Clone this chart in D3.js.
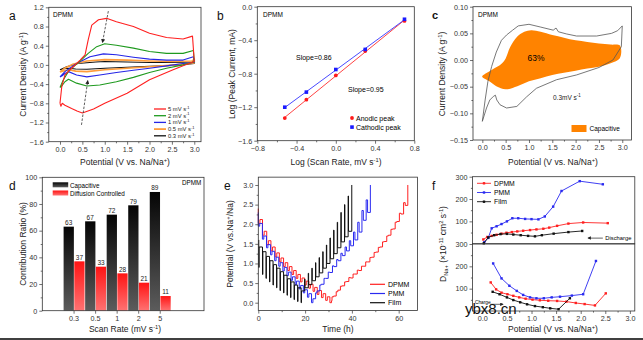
<!DOCTYPE html>
<html>
<head>
<meta charset="utf-8">
<script src="https://cdn.jsdelivr.net/npm/d3@7"></script>
<style>
  body { margin: 0; background: #fff; }
  text { font-family: "Liberation Sans", Arial, sans-serif; }
</style>
</head>
<body>
<div id="chart"></div>
<script>
// ---------- a: CV loops (V, A g-1) anodic sweep then cathodic sweep ----------
const rateLabels = ["5", "2", "1", "0.5", "0.3"];
const rateColors = ["#ff2020", "#1f9a1f", "#2626e6", "#ff9c3a", "#111111"];
const cv5 = [[0,-0.80],[0.04,-0.45],[0.11,-0.21],[0.26,-0.07],[0.45,0.10],[0.56,0.21],[0.63,0.52],[0.71,0.83],[0.86,0.94],[1.04,0.97],[1.26,0.90],[1.64,0.80],[2.0,0.66],[2.38,0.57],[2.75,0.54],[2.96,0.60],
  [3.0,0.07],[2.75,-0.02],[2.5,-0.11],[2.0,-0.31],[1.5,-0.59],[1.0,-0.80],[0.75,-0.92],[0.5,-1.0],[0.38,-0.96],[0.26,-0.91],[0.11,-0.84],[0.05,-0.80],[0.02,-0.86],[0,-0.80]];
const cv2 = [[0,-0.47],[0.07,-0.32],[0.2,-0.12],[0.45,0.08],[0.63,0.24],[0.82,0.38],[1.0,0.44],[1.26,0.41],[1.64,0.35],[2.0,0.28],[2.38,0.24],[2.75,0.24],[2.98,0.30],
  [3.0,0.06],[2.75,0.0],[2.38,-0.07],[2.0,-0.16],[1.64,-0.26],[1.26,-0.35],[0.89,-0.42],[0.6,-0.44],[0.37,-0.38],[0.19,-0.30],[0.11,-0.35],[0.04,-0.44],[0,-0.47]];
const cv1 = [[0,-0.25],[0.11,-0.14],[0.37,0.03],[0.67,0.17],[0.97,0.23],[1.26,0.21],[1.64,0.16],[2.0,0.12],[2.38,0.10],[2.75,0.10],[2.98,0.17],
  [3.0,0.05],[2.75,0.03],[2.38,-0.02],[2.0,-0.07],[1.64,-0.11],[1.26,-0.16],[0.89,-0.21],[0.6,-0.25],[0.37,-0.21],[0.19,-0.14],[0.11,-0.18],[0.04,-0.23],[0,-0.25]];
const cv05 = [[0,-0.15],[0.1,-0.07],[0.3,0.02],[0.6,0.08],[1.0,0.11],[1.5,0.10],[2.0,0.08],[2.5,0.07],[2.95,0.08],[3.0,0.12],
  [3.0,0.04],[2.7,0.01],[2.3,-0.02],[2.0,-0.04],[1.5,-0.07],[1.0,-0.10],[0.6,-0.14],[0.35,-0.13],[0.2,-0.10],[0.1,-0.12],[0,-0.15]];
const cv03 = [[0,-0.10],[0.15,-0.04],[0.4,0.03],[0.8,0.06],[1.0,0.07],[1.5,0.06],[2.0,0.05],[2.5,0.05],[2.95,0.06],[3.0,0.08],
  [3.0,0.03],[2.7,0.0],[2.3,-0.02],[2.0,-0.03],[1.5,-0.05],[1.0,-0.07],[0.6,-0.09],[0.35,-0.085],[0.2,-0.07],[0.1,-0.08],[0,-0.10]];
const cvLoops = [cv5, cv2, cv1, cv05, cv03];
const peakArrows = [[[1.08,1.12],[0.95,0.47]], [[0.48,-1.25],[0.62,-0.33]]];

// ---------- b: log(peak current) vs log(scan rate) ----------
const logRate = [-0.52, -0.3, 0, 0.3, 0.7];
const logAnodic = [-1.33, -1.11, -0.82, -0.53, -0.17];
const logCathodic = [-1.20, -1.02, -0.75, -0.51, -0.15];

// ---------- c: 0.3 mV/s CV and capacitive part ----------
const cvTotal03 = [[0,-0.115],[0.06,-0.075],[0.12,-0.04],[0.2,-0.012],[0.3,0.015],[0.41,0.037],[0.52,0.047],[0.65,0.056],[0.77,0.064],[1.0,0.067],[1.24,0.062],[1.52,0.056],[1.58,0.060],[1.63,0.053],[1.8,0.049],[2.02,0.045],[2.45,0.045],[2.77,0.050],[2.9,0.055],[3.0,0.064],
  [2.98,0.025],[2.8,0.0],[2.5,-0.014],[2.02,-0.028],[1.59,-0.037],[1.16,-0.053],[0.95,-0.069],[0.74,-0.087],[0.52,-0.090],[0.38,-0.084],[0.31,-0.075],[0.28,-0.066],[0.24,-0.068],[0.16,-0.075],[0.09,-0.090],[0,-0.115]];
const capUpper = [[0,-0.030],[0.1,-0.024],[0.25,-0.016],[0.4,-0.008],[0.5,0.003],[0.6,0.025],[0.75,0.044],[0.9,0.053],[1.05,0.056],[1.25,0.053],[1.5,0.047],[1.75,0.042],[2.0,0.037],[2.25,0.034],[2.5,0.031],[2.75,0.029],[2.95,0.027]];
const capLower = [[0,-0.032],[0.15,-0.040],[0.3,-0.049],[0.5,-0.055],[0.75,-0.049],[1.0,-0.040],[1.25,-0.034],[1.5,-0.028],[1.75,-0.024],[2.0,-0.020],[2.25,-0.016],[2.5,-0.0125],[2.75,-0.006],[2.95,0.004]];

// ---------- d: contribution ratio ----------
const scanRates = ["0.3", "0.5", "1", "2", "5"];
const capPct = [63, 67, 72, 79, 89];
const diffPct = [37, 33, 28, 21, 11];

// ---------- e: GITT (pulse start time h, rest potential before pulse, potential at pulse end) ----------
const dpmmT = [0,1.8,3.6,5.4,7.2,9.0,10.8,12.6,14.4,16.2,18.0,19.8,21.6,23.4,25.2,27.0,28.8,30.6,
  31.5,33.3,35.1,36.9,38.7,40.5,42.3,44.1,45.9,47.7,49.5,51.3,53.1,54.9,56.7,58.5,60.3,62.1,63.9];
const dpmmRest = [2.4,2.12,1.82,1.58,1.42,1.27,1.14,1.02,0.92,0.82,0.72,0.63,0.55,0.47,0.39,0.31,0.23,0.15,
  0.05,0.17,0.32,0.43,0.54,0.63,0.73,0.82,0.93,1.04,1.16,1.29,1.42,1.56,1.72,1.88,2.07,2.26,2.48];
const dpmmPulse = [2.02,1.72,1.48,1.32,1.17,1.04,0.92,0.82,0.72,0.62,0.53,0.45,0.37,0.29,0.21,0.13,0.06,0.0,
  0.15,0.28,0.42,0.53,0.64,0.73,0.83,0.93,1.04,1.15,1.28,1.41,1.55,1.70,1.87,2.05,2.28,2.55,3.0];
const pmmT = [0,1.75,3.5,5.25,7,8.75,10.5,12.25,14,15.75,17.5,19.25,21,22.75,
  24.5,26.3,28.1,29.9,31.7,33.5,35.3,37.1,38.9,40.7,42.5,44.3,46.1,47.9];
const pmmRest = [2.3,2.02,1.7,1.48,1.31,1.16,1.02,0.9,0.78,0.66,0.55,0.44,0.33,0.23,
  0.1,0.3,0.47,0.62,0.77,0.92,1.07,1.2,1.32,1.45,1.6,1.8,2.1,2.3];
const pmmPulse = [1.95,1.62,1.4,1.22,1.07,0.93,0.81,0.69,0.57,0.46,0.35,0.25,0.14,0.0,
  0.25,0.45,0.62,0.78,0.94,1.1,1.26,1.42,1.58,1.8,2.05,2.35,2.62,3.0];
const filmT = [0.2,1.8,3.3,4.8,6.3,7.8,9.3,10.8,12.3,13.8,15.3,16.8,18.3,
  19.8,21.35,22.9,24.45,26.0,27.55,29.1,30.65,32.2,33.75,35.3,36.85,38.4,39.95];
const filmRest = [1.6,1.42,1.3,1.18,1.07,0.97,0.88,0.79,0.7,0.61,0.53,0.45,0.38,
  0.3,0.38,0.46,0.56,0.66,0.76,0.88,1.0,1.12,1.25,1.4,1.55,1.68,1.82];
const filmPulse = [0.9,0.72,0.62,0.53,0.45,0.38,0.31,0.25,0.19,0.13,0.08,0.03,0.0,
  0.6,0.75,0.88,1.02,1.15,1.3,1.47,1.65,1.85,2.05,2.3,2.5,2.72,3.0];

// ---------- f: Na+ diffusion coefficient (V, 1e-11 cm2/s) ----------
const disDPMM = [[0.02,19],[0.1,30],[0.19,35],[0.29,40],[0.39,45],[0.49,49],[0.6,52],[0.71,55],[0.83,58],[0.97,61],[1.1,64],[1.24,67],[1.36,72],[1.52,80],[1.75,90],[2.05,95],[2.55,92]];
const disPMM = [[0.04,7],[0.12,26],[0.19,69],[0.29,78],[0.39,88],[0.5,100],[0.61,114],[0.73,114],[0.87,111],[1.0,110],[1.14,109],[1.27,122],[1.44,166],[1.61,236],[1.98,280],[2.45,266]];
const disFilm = [[0.03,2],[0.12,28],[0.24,38],[0.37,43],[0.5,44],[0.63,41],[0.78,38],[0.93,35],[1.07,33],[1.21,38],[1.45,45],[1.75,52],[2.03,57]];
const chDPMM = [[0.17,128],[0.28,97],[0.39,82],[0.51,75],[0.63,68],[0.75,61],[0.88,55],[1.02,51],[1.17,48],[1.34,46],[1.52,45],[1.71,42],[1.9,36],[2.08,31],[2.29,25],[2.51,79]];
const chPMM = [[0.22,213],[0.39,146],[0.55,113],[0.7,90],[0.83,72],[0.97,61],[1.1,57],[1.25,57],[1.41,61],[1.58,64],[1.82,69],[2.05,75],[2.31,224]];
const chFilm = [[0.21,86],[0.35,75],[0.5,61],[0.63,49],[0.77,39],[0.91,30],[1.07,22],[1.23,17],[1.38,12],[1.55,8],[1.78,57]];
const seriesNames = ["DPMM", "PMM", "Film"];
const seriesColors = ["#ff2020", "#2a2af0", "#111111"];

// ================= drawing =================
const svg = d3.select("#chart").append("svg")
    .attr("width", 643).attr("height", 340);
svg.append("rect").attr("width", 643).attr("height", 340).attr("fill", "#fff");

const defs = svg.append("defs");
function grad(id, c0, c1) {
    const g = defs.append("linearGradient").attr("id", id)
        .attr("x1", 0).attr("y1", 0).attr("x2", 0).attr("y2", 1);
    g.append("stop").attr("offset", "0%").attr("stop-color", c0);
    g.append("stop").attr("offset", "100%").attr("stop-color", c1);
}
grad("capGrad", "#050505", "#5c5c5c");
grad("diffGrad", "#ff1414", "#ff7272");
defs.append("marker").attr("id", "arr").attr("viewBox", "0 0 10 10")
    .attr("refX", 8).attr("refY", 5).attr("markerWidth", 5).attr("markerHeight", 5)
    .attr("orient", "auto-start-reverse")
    .append("path").attr("d", "M0,0L10,5L0,10z").attr("fill", "#222");

// text with sub / superscript parts
function rich(g, x, y, parts, size, opt = {}) {
    const t = g.append("text").attr("x", x).attr("y", y).attr("font-size", size)
        .attr("text-anchor", opt.anchor || "middle").attr("fill", opt.fill || "#222");
    if (opt.rot) t.attr("transform", `rotate(-90,${x},${y})`);
    let shift = 0;
    parts.forEach(p => {
        const [s, k] = typeof p === "string" ? [p, null] : p;
        const target = k === "sup" ? -0.38 * size : k === "sub" ? 0.28 * size : 0;
        t.append("tspan").attr("dy", target - shift).attr("font-size", k ? size * 0.68 : size).text(s);
        shift = target;
    });
    return t;
}

function styleAxis(sel) {
    sel.attr("font-size", 7.2).attr("font-family", '"Liberation Sans", Arial, sans-serif');
    sel.select(".domain").remove();
    sel.selectAll(".tick line").attr("stroke", "#333").attr("stroke-width", 0.7);
    sel.selectAll(".tick text").attr("fill", "#333");
}

function frame(g, x, y, o) {
    const [xa, xb] = [x.range()[0], x.range()[x.range().length - 1]];
    const xLo = o.box ? o.box[0] : xa, xHi = o.box ? o.box[1] : xb;
    const [yb, ya] = y.range();
    const bottom = g.append("g").attr("transform", `translate(0,${yb})`)
        .call(d3.axisBottom(x).tickValues(o.xt || null).tickFormat(o.xf || null)
            .tickSize(3).tickSizeOuter(0).tickPadding(2));
    styleAxis(bottom);
    if (o.xm) styleAxis(g.append("g").attr("transform", `translate(0,${yb})`)
        .call(d3.axisBottom(x).tickValues(o.xm).tickFormat("").tickSize(1.6).tickSizeOuter(0)));
    const left = g.append("g").attr("transform", `translate(${xLo},0)`)
        .call(d3.axisLeft(y).tickValues(o.yt).tickFormat(o.yf).tickSize(3).tickSizeOuter(0).tickPadding(2));
    styleAxis(left);
    if (o.ym) styleAxis(g.append("g").attr("transform", `translate(${xLo},0)`)
        .call(d3.axisLeft(y).tickValues(o.ym).tickFormat("").tickSize(1.6).tickSizeOuter(0)));
    g.append("rect").attr("x", xLo).attr("y", ya).attr("width", xHi - xLo).attr("height", yb - ya)
        .attr("fill", "none").attr("stroke", "#333").attr("stroke-width", 0.8);
}

function letter(x, y, s) {
    svg.append("text").attr("x", x).attr("y", y).attr("font-size", 12).attr("fill", "#111").text(s);
}
const f1 = d3.format(".1f"), f2 = d3.format(".2f");

// ---------------- panel a ----------------
{
    const g = svg.append("g");
    const x = d3.scaleLinear().domain([-0.25, 3.15]).range([48.8, 201]);
    const y = d3.scaleLinear().domain([-1.6, 1.2]).range([141.7, 7.3]);
    const line = d3.line().x(d => x(d[0])).y(d => y(d[1]));
    cvLoops.slice().reverse().forEach((loop, i) => {
        const k = cvLoops.length - 1 - i;
        g.append("path").datum(loop).attr("d", line).attr("fill", "none")
            .attr("stroke", rateColors[k]).attr("stroke-width", k === 3 ? 1.6 : 1.1)
            .attr("stroke-linejoin", "round");
    });
    peakArrows.forEach(a => {
        g.append("line").attr("x1", x(a[0][0])).attr("y1", y(a[0][1]))
            .attr("x2", x(a[1][0])).attr("y2", y(a[1][1]))
            .attr("stroke", "#333").attr("stroke-width", 0.8).attr("stroke-dasharray", "2.5,1.5")
            .attr("marker-end", "url(#arr)");
    });
    frame(g, x, y, {
        xt: d3.range(0, 3.01, 0.5), xf: f1, xm: d3.range(0.25, 3.1, 0.5),
        yt: d3.range(-1.6, 1.21, 0.4), yf: f1, ym: d3.range(-1.4, 1.1, 0.4)
    });
    g.append("text").attr("x", 53).attr("y", 17).attr("font-size", 6.5).text("DPMM");
    rateLabels.forEach((r, i) => {
        const yy = 109 + i * 6.7;
        g.append("line").attr("x1", 154).attr("x2", 166).attr("y1", yy).attr("y2", yy)
            .attr("stroke", rateColors[i]).attr("stroke-width", i === 3 ? 1.8 : 1.3);
        rich(g, 168, yy + 2, [r + " mV s", ["-1", "sup"]], 5.8, { anchor: "start" });
    });
    rich(g, 125, 165, ["Potential (V vs. Na/Na", ["+", "sup"], ")"], 8.5);
    rich(g, 26, 74.5, ["Current Density (A g", ["-1", "sup"], ")"], 8.5, { rot: true });
    letter(9, 20, "a");
}

// ---------------- panel b ----------------
{
    const g = svg.append("g");
    const x = d3.scaleLinear().domain([-0.8, 0.8]).range([257.3, 414.3]);
    const y = d3.scaleLinear().domain([-1.6, 0]).range([140.7, 6.7]);
    const fit = ys => {
        const mx = d3.mean(logRate), my = d3.mean(ys);
        const b = d3.sum(logRate, (v, i) => (v - mx) * (ys[i] - my)) / d3.sum(logRate, v => (v - mx) ** 2);
        return [b, my - b * mx];
    };
    [[logAnodic, "#ff4444"], [logCathodic, "#4a4aff"]].forEach(([ys, c]) => {
        const [b, a] = fit(ys);
        const x0 = d3.min(logRate), x1 = d3.max(logRate);
        g.append("line").attr("x1", x(x0)).attr("x2", x(x1))
            .attr("y1", y(a + b * x0)).attr("y2", y(a + b * x1))
            .attr("stroke", c).attr("stroke-width", 1);
    });
    g.selectAll(".an").data(logAnodic).enter().append("circle")
        .attr("cx", (d, i) => x(logRate[i])).attr("cy", d => y(d)).attr("r", 1.9).attr("fill", "#ff1a1a");
    g.selectAll(".ca").data(logCathodic).enter().append("rect")
        .attr("x", (d, i) => x(logRate[i]) - 1.8).attr("y", d => y(d) - 1.8)
        .attr("width", 3.6).attr("height", 3.6).attr("fill", "#1a1aff");
    frame(g, x, y, {
        xt: [-0.8, -0.4, 0, 0.4, 0.8], xf: f1, xm: [-0.6, -0.2, 0.2, 0.6],
        yt: [-1.6, -1.2, -0.8, -0.4, 0], yf: f1, ym: [-1.4, -1.0, -0.6, -0.2]
    });
    g.append("text").attr("x", 263).attr("y", 17).attr("font-size", 6.5).text("DPMM");
    g.append("text").attr("x", 296).attr("y", 60).attr("font-size", 7).text("Slope=0.86");
    g.append("text").attr("x", 348).attr("y", 92).attr("font-size", 7).text("Slope=0.95");
    g.append("circle").attr("cx", 352).attr("cy", 118).attr("r", 1.9).attr("fill", "#ff1a1a");
    g.append("text").attr("x", 356).attr("y", 120.5).attr("font-size", 7).text("Anodic peak");
    g.append("rect").attr("x", 350.2).attr("y", 125.3).attr("width", 3.6).attr("height", 3.6).attr("fill", "#1a1aff");
    g.append("text").attr("x", 356).attr("y", 129.8).attr("font-size", 7).text("Cathodic peak");
    rich(g, 336, 165, ["Log (Scan Rate, mV s", ["-1", "sup"], ")"], 8.5);
    rich(g, 235, 74, ["Log (Peak Current, mA)"], 8.5, { rot: true });
    letter(217, 20, "b");
}

// ---------------- panel c ----------------
{
    const g = svg.append("g");
    const x = d3.scaleLinear().domain([-0.2, 3.2]).range([473, 631.6]);
    const y = d3.scaleLinear().domain([-0.15, 0.10]).range([140, 6.7]);
    const line = d3.line().x(d => x(d[0])).y(d => y(d[1]));
    const area = capUpper.concat(capLower.slice().reverse());
    g.append("path").datum(area)
        .attr("d", d3.line().x(d => x(d[0])).y(d => y(d[1])).curve(d3.curveCatmullRomClosed))
        .attr("fill", "#ff8300").attr("stroke", "none");
    g.append("path").datum(cvTotal03).attr("d", line).attr("fill", "none")
        .attr("stroke", "#555").attr("stroke-width", 0.8);
    frame(g, x, y, {
        xt: d3.range(0, 3.01, 0.5), xf: f1, xm: d3.range(0.25, 3.1, 0.5),
        yt: d3.range(-0.15, 0.101, 0.05), yf: f2, ym: d3.range(-0.125, 0.1, 0.05)
    });
    g.append("text").attr("x", 478).attr("y", 17).attr("font-size", 6.5).text("DPMM");
    g.append("text").attr("x", 536).attr("y", 60.5).attr("font-size", 8.5)
        .attr("text-anchor", "middle").text("63%");
    rich(g, 553, 99.5, ["0.3mV s", ["-1", "sup"]], 6.5, { anchor: "start" });
    g.append("rect").attr("x", 571.5).attr("y", 125).attr("width", 15).attr("height", 7).attr("fill", "#ff8300");
    g.append("text").attr("x", 589.5).attr("y", 131).attr("font-size", 6.5).text("Capacitive");
    rich(g, 553, 165, ["Potential (V vs. Na/Na", ["+", "sup"], ")"], 8.5);
    rich(g, 445, 74, ["Current Density (A g", ["-1", "sup"], ")"], 8.5, { rot: true });
    svg.append("text").attr("x", 432).attr("y", 19).attr("font-size", 11)
        .attr("font-weight", "bold").attr("fill", "#111").text("c");
}

// ---------------- panel d ----------------
{
    const g = svg.append("g");
    const x = d3.scaleBand().domain(scanRates).range([63.3, 171]).padding(0);
    const y = d3.scaleLinear().domain([0, 100]).range([310.7, 177.3]);
    const bw = x.bandwidth();
    g.selectAll(".cap").data(capPct).enter().append("rect")
        .attr("x", (d, i) => x(scanRates[i]) + 0.3).attr("y", d => y(d))
        .attr("width", bw / 2 - 0.5).attr("height", d => y(0) - y(d)).attr("fill", "url(#capGrad)");
    g.selectAll(".dif").data(diffPct).enter().append("rect")
        .attr("x", (d, i) => x(scanRates[i]) + bw / 2 + 0.2).attr("y", d => y(d))
        .attr("width", bw / 2 - 0.5).attr("height", d => y(0) - y(d)).attr("fill", "url(#diffGrad)");
    g.selectAll(".capl").data(capPct).enter().append("text")
        .attr("x", (d, i) => x(scanRates[i]) + bw / 4).attr("y", d => y(d) - 1.8)
        .attr("text-anchor", "middle").attr("font-size", 6.5).attr("fill", "#222").text(d => d);
    g.selectAll(".difl").data(diffPct).enter().append("text")
        .attr("x", (d, i) => x(scanRates[i]) + bw * 0.75).attr("y", d => y(d) - 1.8)
        .attr("text-anchor", "middle").attr("font-size", 6.5).attr("fill", "#222").text(d => d);
    frame(g, x, y, {
        box: [42.3, 204], yt: d3.range(0, 101, 20), yf: d3.format("d"), ym: d3.range(10, 100, 20)
    });
    g.append("rect").attr("x", 52.7).attr("y", 182.3).attr("width", 15.5).attr("height", 5).attr("fill", "url(#capGrad)");
    g.append("text").attr("x", 70).attr("y", 187.5).attr("font-size", 6.3).text("Capacitive");
    g.append("rect").attr("x", 52.7).attr("y", 190.5).attr("width", 15.5).attr("height", 5).attr("fill", "url(#diffGrad)");
    g.append("text").attr("x", 70).attr("y", 195.7).attr("font-size", 6.3).text("Diffusion Controlled");
    g.append("text").attr("x", 182).attr("y", 185).attr("font-size", 6.3).text("DPMM");
    rich(g, 125, 332, ["Scan Rate (mV s", ["-1", "sup"], ")"], 8.5);
    rich(g, 26, 244, ["Contribution Ratio (%)"], 8.5, { rot: true });
    letter(9, 190, "d");
}

// ---------------- panel e ----------------
function gittPath(t, rest, pulse, w) {
    const pts = [];
    for (let i = 0; i < t.length; i++) {
        if (i > 0) pts.push([t[i - 1] + w, rest[i]]);
        pts.push([t[i], rest[i]]);
        pts.push([t[i], pulse[i]]);
        if (i < t.length - 1) pts.push([t[i] + w, pulse[i]]);
    }
    return pts;
}
{
    const g = svg.append("g");
    const x = d3.scaleLinear().domain([0, 68]).range([258.3, 417.4]);
    const y = d3.scaleLinear().domain([-0.2, 3.2]).range([310.55, 177.15]);
    const line = d3.line().x(d => x(d[0])).y(d => y(d[1]));
    const curves = [
        gittPath(dpmmT, dpmmRest, dpmmPulse, 0.7),
        gittPath(pmmT, pmmRest, pmmPulse, 0.6),
        gittPath(filmT, filmRest, filmPulse, 0.15)
    ];
    curves.forEach((c, i) => {
        g.append("path").datum(c).attr("d", line).attr("fill", "none")
            .attr("stroke", seriesColors[i]).attr("stroke-width", 1);
    });
    frame(g, x, y, {
        xt: [0, 20, 40, 60], xf: d3.format("d"), xm: [10, 30, 50],
        yt: d3.range(0, 3.01, 0.5), yf: f1, ym: d3.range(0.25, 3.1, 0.5)
    });
    seriesNames.forEach((s, i) => {
        const yy = 284.3 + i * 9.2;
        g.append("line").attr("x1", 370).attr("x2", 385).attr("y1", yy).attr("y2", yy)
            .attr("stroke", seriesColors[i]).attr("stroke-width", 1.2);
        g.append("text").attr("x", 388).attr("y", yy + 2.5).attr("font-size", 7).text(s);
    });
    rich(g, 338, 332, ["Time (h)"], 8.5);
    rich(g, 233, 244, ["Potential (V vs.Na", ["+", "sup"], "/Na)"], 8.5, { rot: true });
    letter(224, 190, "e");
}

// ---------------- panel f ----------------
{
    const g = svg.append("g");
    const x = d3.scaleLinear().domain([-0.2, 3.1]).range([472.5, 634.8]);
    const yTop = d3.scaleLinear().domain([0, 300]).range([243.7, 176.7]);
    const yBot = d3.scaleLinear().domain([0, 300]).range([311, 244]);
    const drawSet = (sets, y) => sets.forEach((d, i) => {
        const line = d3.line().x(p => x(p[0])).y(p => y(p[1]));
        g.append("path").datum(d).attr("d", line).attr("fill", "none")
            .attr("stroke", seriesColors[i]).attr("stroke-width", 0.9);
        g.append("g").selectAll("rect").data(d).enter().append("rect")
            .attr("x", p => x(p[0]) - 1.2).attr("y", p => y(p[1]) - 1.2)
            .attr("width", 2.4).attr("height", 2.4).attr("fill", seriesColors[i]);
    });
    drawSet([disDPMM, disPMM, disFilm], yTop);
    drawSet([chDPMM, chPMM, chFilm], yBot);
    frame(g, x, yBot, {
        xt: d3.range(0, 3.01, 0.5), xf: f1, xm: d3.range(0.25, 3.1, 0.5),
        yt: [100, 200, 300], yf: d3.format("d"), ym: [50, 150, 250]
    });
    const lt = g.append("g").attr("transform", `translate(${x.range()[0]},0)`)
        .call(d3.axisLeft(yTop).tickValues([100, 200, 300]).tickFormat(d3.format("d")).tickSize(3).tickSizeOuter(0).tickPadding(2));
    styleAxis(lt);
    styleAxis(g.append("g").attr("transform", `translate(${x.range()[0]},0)`)
        .call(d3.axisLeft(yTop).tickValues([50, 150, 250]).tickFormat("").tickSize(1.6).tickSizeOuter(0)));
    g.append("rect").attr("x", 472.5).attr("y", 176.7).attr("width", 634.8 - 472.5).attr("height", 67)
        .attr("fill", "none").attr("stroke", "#333").attr("stroke-width", 0.8);
    seriesNames.forEach((s, i) => {
        const yy = 183.3 + i * 9.2;
        g.append("line").attr("x1", 477).attr("x2", 491).attr("y1", yy).attr("y2", yy)
            .attr("stroke", seriesColors[i]).attr("stroke-width", 0.9);
        g.append("rect").attr("x", 482.8).attr("y", yy - 1.2).attr("width", 2.4).attr("height", 2.4).attr("fill", seriesColors[i]);
        g.append("text").attr("x", 494).attr("y", yy + 2.4).attr("font-size", 6.8).text(s);
    });
    g.append("line").attr("x1", x(2.45)).attr("x2", x(2.15)).attr("y1", yTop(25)).attr("y2", yTop(25))
        .attr("stroke", "#222").attr("stroke-width", 0.7).attr("marker-end", "url(#arr)");
    g.append("text").attr("x", x(2.5)).attr("y", yTop(25) + 2).attr("font-size", 5.8).text("Discharge");
    g.append("text").attr("x", x(-0.15)).attr("y", yBot(36) + 1.5).attr("font-size", 4.8).text("Charge");
    g.append("line").attr("x1", x(0.16)).attr("x2", x(0.42)).attr("y1", yBot(30)).attr("y2", yBot(30))
        .attr("stroke", "#222").attr("stroke-width", 0.7).attr("marker-end", "url(#arr)");
    rich(g, 553, 332, ["Potential (V vs. Na/Na", ["+", "sup"], ")"], 8.5);
    rich(g, 446, 244, ["D", ["Na+", "sub"], " (\u00d710", ["-11", "sup"], " cm", ["2", "sup"], " s", ["-1", "sup"], ")"], 8.5, { rot: true });
    letter(432, 190, "f");
}

// watermark and bottom rule from the source image
svg.append("text").attr("x", 465).attr("y", 314).attr("font-size", 15).attr("fill", "#111").text("ybx8.cn");
svg.append("line").attr("x1", 0).attr("x2", 643).attr("y1", 339).attr("y2", 339)
    .attr("stroke", "#000").attr("stroke-width", 1.6);
</script>
</body>
</html>
